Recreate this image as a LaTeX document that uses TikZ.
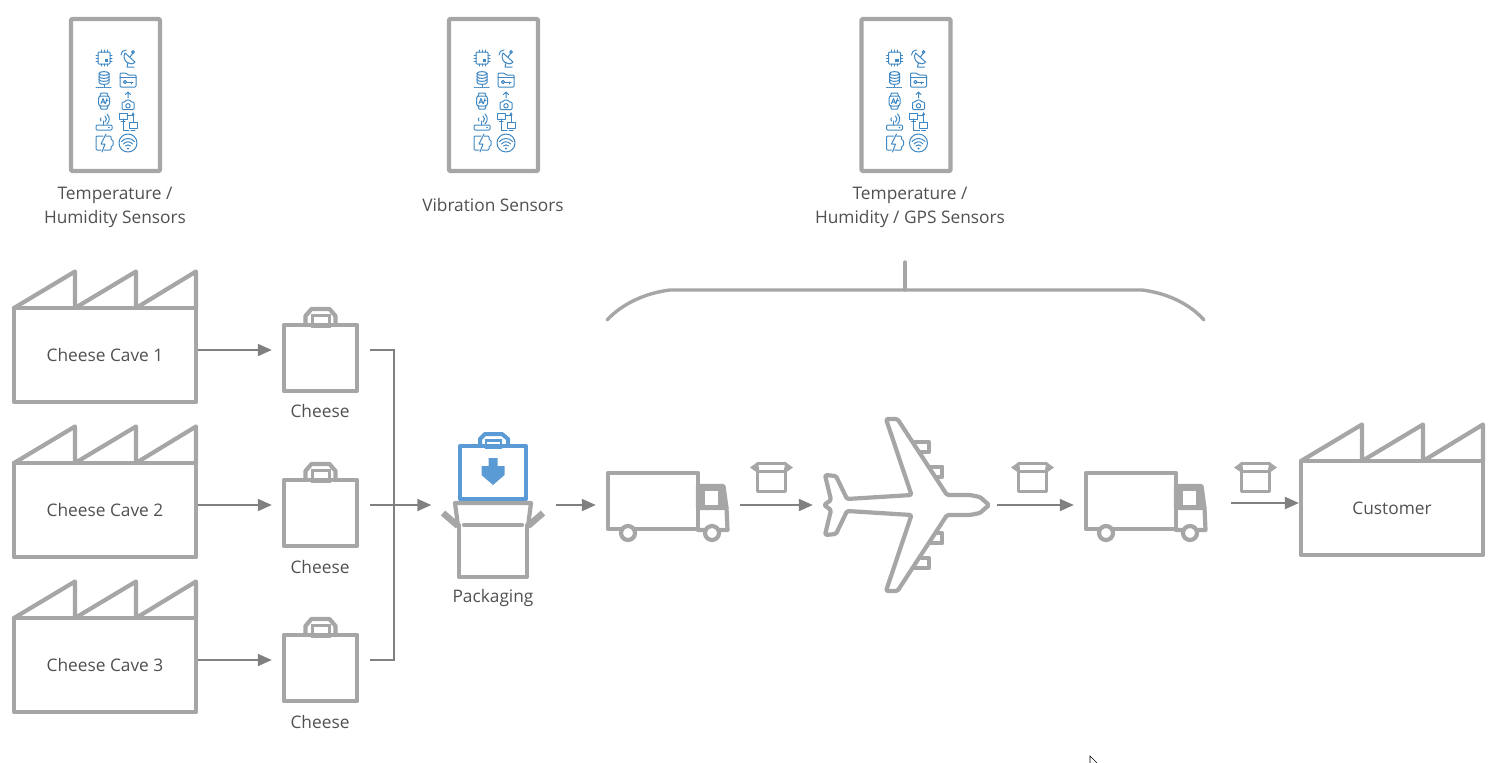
\documentclass[tikz,border=0pt]{standalone}
\usepackage{fontspec}
\setmainfont{Open Sans}
\usetikzlibrary{arrows.meta}
\definecolor{shapegray}{HTML}{A6A6A6}
\definecolor{flowgray}{HTML}{808080}
\definecolor{textgray}{HTML}{505050}
\definecolor{packblue}{HTML}{5B9BD5}
\definecolor{iconblue}{HTML}{3F87C2}
\tikzset{
    outline/.style={draw=shapegray, line width=4.2pt, line join=round, line cap=round},
    plant/.style={outline, rectangle, minimum width=182pt, minimum height=94pt, inner sep=0pt, text=textgray, font=\fontsize{17.3}{24}\selectfont},
    sensor/.style={outline, rectangle, rounded corners=1pt, minimum width=89pt, minimum height=152pt},
    slot/.style={rectangle, inner sep=0pt, minimum width=#1},
    caption/.style={text=textgray, align=center, font=\fontsize{17.3}{24}\selectfont},
    flow/.style={draw=flowgray, line width=2pt, -{Triangle[length=14pt,width=12pt]}},
    flowline/.style={draw=flowgray, line width=2pt},
    roof/.pic={
        \draw[outline] (-91,-47) -- (-30,-83.5) -- (-30,-47) -- (31,-83.5) -- (31,-47) -- (91,-83.5) -- (91,-47);
    },
    bagicon/.pic={
        \draw[outline] (-36.5,-25) rectangle (36.5,41);
        \draw[outline] (-15,-25) -- (-15,-34) -- (-9,-41) -- (9,-41) -- (15,-34) -- (15,-25);
        \draw[draw=shapegray, line width=3pt] (-8.5,-35) rectangle (8.5,-24);
    },
    packicon/.pic={
        \draw[outline] (-34,20) -- (-34,72) -- (34,72) -- (34,20);
        \draw[outline] (-29,20) -- (29,20);
        \draw[outline] (-35,21) -- (-38,-2) -- (38,-2) -- (35,21);
        \draw[outline, line width=6.5pt, line cap=butt] (-35,21) -- (-50,8);
        \draw[outline, line width=6.5pt, line cap=butt] (35,21) -- (50,8);
        \draw[draw=packblue, line width=4pt, line join=round] (-33,-59) rectangle (33,-6);
        \draw[draw=packblue, line width=4pt, line join=round] (-13,-59) -- (-13,-66) -- (-8,-71) -- (9,-71) -- (15,-66) -- (15,-59);
        \draw[draw=packblue, line width=2.8pt] (-7,-64.5) rectangle (8,-57);
        \fill[packblue] (-4.5,-47) -- (4.5,-47) -- (4.5,-39) -- (11.5,-39) -- (11.5,-30) -- (0,-20) -- (-11.5,-30) -- (-11.5,-39) -- (-4.5,-39) -- cycle;
    },
    truckicon/.pic={
        \draw[outline] (-60,-32) rectangle (30,24);
        \draw[outline, fill=shapegray] (30,-19) -- (55.5,-19) -- (58.5,3) -- (30,3) -- cycle;
        \fill[white] (37,-14) rectangle (50,0);
        \draw[outline] (58.5,3) -- (59.5,25) -- (30,25);
        \draw[outline, fill=white] (-40,28) circle (7);
        \draw[outline, fill=white] (44,28) circle (7);
    },
    parcelicon/.pic={
        \draw[outline, line width=3.8pt] (-14,-9) -- (-14,14) -- (14,14) -- (14,-9);
        \draw[outline, line width=2.4pt] (-14,-6) -- (14,-6);
        \draw[outline, line width=3.8pt] (-14,-14) -- (14,-14);
        \fill[shapegray] (-13,-16) -- (-21.5,-10) -- (-13,-4) -- cycle;
        \fill[shapegray] (13,-16) -- (21.5,-10) -- (13,-4) -- cycle;
    },
    planeicon/.pic={
        \draw[outline] (8,-62.7) -- (22.3,-62.7) -- (22.3,-53.3) -- (14.7,-53.3);
        \draw[outline] (21.3,-38.3) -- (35.3,-38.3) -- (35.3,-28.3) -- (28,-28.3);
        \draw[outline] (8,62.7) -- (22.3,62.7) -- (22.3,53.3) -- (14.7,53.3);
        \draw[outline] (21.3,38.3) -- (35.3,38.3) -- (35.3,28.3) -- (28,28.3);
        \draw[outline, fill=white, rounded corners=1.5pt] (82,0) -- (73,-8) -- (63,-10) -- (40,-10) -- (-9.5,-86) -- (-21,-86) -- (4.5,-10) -- (-60,-6) -- (-71,-29) -- (-82,-30) -- (-76,-5) -- (-83,0) -- (-76,5) -- (-82,30) -- (-71,29) -- (-60,6) -- (4.5,10) -- (-21,86) -- (-9.5,86) -- (40,10) -- (63,10) -- (73,8) -- cycle;
    },
    iconset/.pic={
        \begin{scope}[draw=iconblue, line width=1pt, line cap=round, line join=round]
            \begin{scope}[shift={(-11.5,-37)}]
                \draw[rounded corners=1pt] (-6,-6) rectangle (6,6);
                \fill[iconblue] (0.5,0.5) rectangle (4,4);
                \draw (-3,-8) -- (-3,-6) (0,-8) -- (0,-6) (3,-8) -- (3,-6) (-3,8) -- (-3,6) (0,8) -- (0,6) (3,8) -- (3,6);
                \draw (-8,-3) -- (-6,-3) (-8,0) -- (-6,0) (-8,3) -- (-6,3) (8,-3) -- (6,-3) (8,0) -- (6,0) (8,3) -- (6,3);
            \end{scope}
            \begin{scope}[shift={(12.5,-37)}]
                \draw (-3,-5) -- (7,4) .. controls (3,9) and (-7,3) .. (-3,-5) -- cycle;
                \draw (0,5) -- (-1,9) -- (6,9);
                \draw (2,-1) -- (5,-5);
                \draw (5,-6) circle (1.4);
                \draw (-7,-3) .. controls (-7,-6) and (-5,-8) .. (-2,-8);
            \end{scope}
            \begin{scope}[shift={(-11.5,-15.5)}]
                \draw (-5,-6) .. controls (-5,-8.5) and (5,-8.5) .. (5,-6) .. controls (5,-3.5) and (-5,-3.5) .. (-5,-6);
                \draw (-5,-6) -- (-5,3) .. controls (-5,5.5) and (5,5.5) .. (5,3) -- (5,-6);
                \draw (-5,-3) .. controls (-5,-0.5) and (5,-0.5) .. (5,-3) (-5,0) .. controls (-5,2.5) and (5,2.5) .. (5,0);
                \draw (0,5) -- (0,7);
                \draw[densely dotted] (-8,8) -- (8,8);
            \end{scope}
            \begin{scope}[shift={(12.5,-15)}]
                \draw[rounded corners=1pt] (-8,-7) -- (-2,-7) -- (0,-5) -- (8,-5) -- (8,7) -- (-8,7) -- cycle;
                \draw (-8,-3) -- (8,-3);
                \draw (-3,2) circle (1.6);
                \draw (-1.4,2) -- (5,2) (3,2) -- (3,4);
            \end{scope}
            \begin{scope}[shift={(-11.5,6)}]
                \draw[rounded corners=2.5pt] (-5.5,-5) rectangle (5.5,5);
                \draw (-4,-5) -- (-3,-8) -- (3,-8) -- (4,-5) (-4,5) -- (-3,8) -- (3,8) -- (4,5);
                \draw (-3,2.5) -- (-1,-2.5) -- (1,2.5) (-2,1) -- (0,1) (3,-2.5) -- (1.5,2.5) (2,-0.5) -- (4,-0.5);
            \end{scope}
            \begin{scope}[shift={(12.5,6)}]
                \draw[rounded corners=1pt] (-6,1) -- (-3,1) -- (-2,-1) -- (2,-1) -- (3,1) -- (6,1) -- (6,8.5) -- (-6,8.5) -- cycle;
                \draw (0,4.8) circle (2.2);
                \draw (0,-3) -- (0,-9) (-2.5,-6.5) -- (0,-9) -- (2.5,-6.5);
            \end{scope}
            \begin{scope}[shift={(-11.5,27)}]
                \draw[rounded corners=1pt] (-8,3) rectangle (8,8);
                \draw (-1,3) -- (-1,-1);
                \draw (1,-6) .. controls (3,-4) and (3,-2) .. (1,0) (3,-8) .. controls (6,-5) and (6,-1) .. (3,2);
                \draw (-3,-4) .. controls (-4,-3) and (-4,-2) .. (-3,-1);
                \fill[iconblue] (5,5.5) circle (0.9);
            \end{scope}
            \begin{scope}[shift={(12.5,26)}]
                \draw (-9,-8) rectangle (-1,-2) (1,1) rectangle (9,7);
                \draw (-5,-2) -- (-5,9) -- (1,9) (-1,-6) -- (5,-6) (5,-6) -- (5,1);
                \draw (-7,0) -- (-3,0) (3,9) -- (7,9);
                \fill[iconblue] (5,-9) -- (3.5,-6) -- (6.5,-6) -- cycle;
            \end{scope}
            \begin{scope}[shift={(-11.5,48)}]
                \draw[rounded corners=1pt] (-1,-7) -- (-8,-7) -- (-8,7) -- (-3,7);
                \draw[rounded corners=1pt] (2,-7) -- (7,-7) -- (7,-3) -- (9,-3) -- (9,3) -- (7,3) -- (7,7) -- (0,7);
                \draw (2,-9) -- (-3,1) -- (1,1) -- (-2,9);
            \end{scope}
            \begin{scope}[shift={(12.5,48)}]
                \draw (0,0) circle (9);
                \draw (-6.5,-1.5) .. controls (-3,-5.5) and (3,-5.5) .. (6.5,-1.5);
                \draw (-4.5,1) .. controls (-2,-2) and (2,-2) .. (4.5,1);
                \draw (-2.5,3) .. controls (-1,1.5) and (1,1.5) .. (2.5,3);
                \fill[iconblue] (0,5.5) circle (1.1);
            \end{scope}
        \end{scope}
    }
}
\begin{document}
\begin{tikzpicture}[x=1pt, y=-1pt]
    \useasboundingbox (0,0) rectangle (1494,763);

    \node[sensor] (sensor1) at (115.5,95) {};
    \node[sensor] (sensor2) at (493.5,95) {};
    \node[sensor] (sensor3) at (906,95) {};
    \pic at (sensor1) {iconset};
    \pic at (sensor2) {iconset};
    \pic at (sensor3) {iconset};
    \node[caption] (label1) at (115,207.5) {Temperature /\\Humidity Sensors};
    \node[caption] (label2) at (493,205) {Vibration Sensors};
    \node[caption] (label3) at (910,207.5) {Temperature /\\Humidity / GPS Sensors};

    \node[plant] (cave1) at (105,355) {\raisebox{1pt}{Cheese Cave 1}};
    \node[plant] (cave2) at (105,510) {Cheese Cave 2};
    \node[plant] (cave3) at (105,665) {Cheese Cave 3};
    \node[plant] (customer) at (1392,508) {Customer};
    \pic at (cave1) {roof};
    \pic at (cave2) {roof};
    \pic at (cave3) {roof};
    \pic at (customer) {roof};

    \node[slot=75pt, minimum height=84pt] (bag1) at (320.5,350) {};
    \node[slot=75pt, minimum height=84pt] (bag2) at (320.5,505) {};
    \node[slot=75pt, minimum height=84pt] (bag3) at (320.5,660) {};
    \pic at (bag1) {bagicon};
    \pic at (bag2) {bagicon};
    \pic at (bag3) {bagicon};
    \node[caption] (cheese1) at (320,411) {Cheese};
    \node[caption] (cheese2) at (320,567) {Cheese};
    \node[caption] (cheese3) at (320,722) {Cheese};

    \node[slot=99pt, minimum height=60pt] (pack) at (493,505) {};
    \pic at (pack) {packicon};
    \node[caption] (packlabel) at (493,597.5) {Packaging};

    \node[slot=122pt, minimum height=67pt] (truck1) at (668,505) {};
    \node[slot=166pt, minimum height=172pt] (plane) at (907,505) {};
    \node[slot=122pt, minimum height=67pt] (truck2) at (1146,505) {};
    \pic at (truck1) {truckicon};
    \pic at (plane) {planeicon};
    \pic at (truck2) {truckicon};
    \pic at (771.5,477.5) {parcelicon};
    \pic at (1032.5,477.5) {parcelicon};
    \pic at (1255.5,477.5) {parcelicon};

    \coordinate (join) at (394,505);
    \draw[flow, shorten >=11pt] (cave1.east |- bag1.west) -- (bag1.west);
    \draw[flow, shorten >=11pt] (cave2.east |- bag2.west) -- (bag2.west);
    \draw[flow, shorten >=11pt] (cave3.east |- bag3.west) -- (bag3.west);
    \draw[flowline, shorten <=12pt] (bag1.east) -| (join);
    \draw[flowline, shorten <=12pt] (bag3.east) -| (join);
    \draw[flow, shorten <=12pt, shorten >=12pt] (bag2.east) -- (pack.west);
    \draw[flow, shorten <=13pt, shorten >=11pt] (pack.east) -- (truck1.west);
    \draw[flow, shorten <=11pt, shorten >=11pt] (truck1.east) -- (plane.west);
    \draw[flow, shorten <=7pt, shorten >=11pt] (plane.east) -- (truck2.west);
    \draw[flow, shorten <=24pt] ([yshift=2pt]truck2.east) -- ([yshift=5pt]customer.west);

    \coordinate (brace) at (905,290);
    \coordinate (bracetop) at (905,262);
    \draw[outline, line width=3.4pt] (607,320) .. controls (622,304) and (645,293) .. (670,290) -- (1142,290) .. controls (1167,293) and (1190,304) .. (1204,320);
    \draw[outline, line width=3.4pt] (bracetop) -- (brace);

    \draw[black, line width=0.6pt] (1090,763) -- (1090,756) -- (1097,763);
\end{tikzpicture}
\end{document}
